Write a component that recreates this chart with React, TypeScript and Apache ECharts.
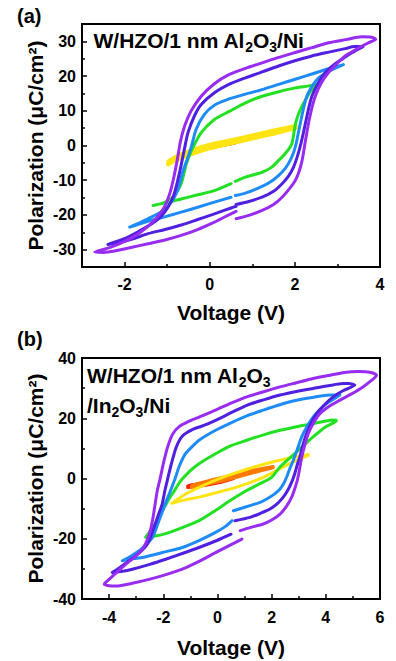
import React, { useEffect, useRef } from 'react';
import * as echarts from 'echarts';

const FONT = "'Liberation Sans', Arial, Helvetica, sans-serif";

// ---------- Panel (a): W/HZO/1 nm Al2O3/Ni ----------
const aXTicks = [-2, 0, 2, 4];
const aYTicks = [-30, -20, -10, 0, 10, 20, 30];

const aPurple = [
  [0.62, -21.1], [0.9, -20.2], [1.23, -18.7], [1.5, -17.0], [1.7, -14.9], [1.87, -12.5], [2.01, -10.1], [2.1, -7.5],
  [2.17, -4.3], [2.23, 0], [2.3, 5], [2.38, 9.8], [2.48, 14.2], [2.62, 18], [2.79, 21], [3.0, 23.7], [3.18, 25.8],
  [3.4, 27.4], [3.57, 28.6], [3.75, 29.7], [3.9, 30.6], [3.8, 31.2], [3.57, 31.3], [3.2, 30.5], [2.79, 29.6],
  [2.4, 28.2], [2.01, 26.8], [1.6, 25.3], [1.23, 23.8], [0.85, 22.3], [0.45, 20.4], [0.11, 17.8], [-0.2, 14.2],
  [-0.44, 9.9], [-0.59, 5.6], [-0.69, 1.0], [-0.76, -4.0], [-0.84, -9.0], [-0.93, -13.5], [-1.06, -17.6],
  [-1.25, -20.9], [-1.45, -23.3], [-1.7, -25.6], [-2.0, -27.6], [-2.35, -29.4], [-2.7, -30.7], [-2.5, -30.8],
  [-2.23, -30.4], [-1.85, -29.4], [-1.45, -28.3], [-1.05, -27.2], [-0.67, -25.9], [-0.3, -24.3], [0.11, -22.1],
  [0.35, -20.6], [0.62, -19.0],
];
const aIndigo = [
  [0.62, -17.0], [0.9, -16.2], [1.23, -14.9], [1.5, -13.2], [1.7, -11.0], [1.85, -8.8], [1.97, -6.2], [2.05, -3.5],
  [2.11, -1.0], [2.17, 2.0], [2.25, 6.5], [2.32, 10.5], [2.4, 14.2], [2.55, 18], [2.71, 21], [2.9, 23.1], [3.1, 24.8],
  [3.35, 26.8], [3.6, 28.5], [3.4, 28.5], [3.18, 27.9], [2.8, 26.9], [2.4, 25.8], [2.0, 24.4], [1.62, 22.9],
  [1.23, 21.2], [0.84, 19.5], [0.45, 17.6], [0.11, 15.2], [-0.2, 11.8], [-0.36, 8.5], [-0.51, 3.7], [-0.59, -0.7],
  [-0.66, -5.0], [-0.75, -10.0], [-0.85, -14.5], [-0.98, -17.8], [-1.15, -20.5], [-1.37, -22.6], [-1.65, -24.6],
  [-1.92, -26.4], [-2.15, -27.5], [-2.39, -28.5], [-2.1, -27.9], [-1.8, -26.9], [-1.45, -25.4], [-1.05, -24.2],
  [-0.67, -22.9], [-0.3, -21.4], [0.11, -19.7], [0.5, -18.0], [0.62, -17.5],
];
const aBlue = [
  [0.6, -14.4], [0.84, -13.7], [1.23, -11.8], [1.45, -10.3], [1.62, -8.6], [1.78, -6.5], [1.89, -4.3], [1.97, -2.0],
  [2.03, 0.5], [2.08, 3.5], [2.13, 6.5], [2.2, 10.5], [2.28, 14.2], [2.4, 17.0], [2.56, 19.5], [2.8, 21.4],
  [3.14, 23.3], [2.79, 22.1], [2.4, 20.6], [2.01, 19.1], [1.62, 17.6], [1.23, 16.1], [0.84, 14.8], [0.47, 13.5],
  [0.11, 11.6], [-0.13, 8.9], [-0.32, 4.6], [-0.44, -0.7], [-0.53, -4.0], [-0.63, -7.5], [-0.75, -12.8],
  [-0.9, -16.3], [-1.1, -18.8], [-1.45, -21.1], [-1.88, -23.5], [-1.53, -22.1], [-1.1, -20.7], [-0.67, -19.2],
  [-0.28, -17.8], [0.11, -16.3], [0.5, -14.9],
];
const aGreen = [
  [0.6, -10.3], [0.84, -9.1], [1.23, -7.7], [1.45, -6.3], [1.62, -4.3], [1.76, -2.5], [1.86, -1.0], [1.93, 0.5],
  [1.97, 3.0], [2.02, 6.5], [2.1, 9.5], [2.21, 12.3], [2.4, 16.1], [2.56, 17.6], [2.3, 17.1], [2.01, 16.6],
  [1.62, 15.5], [1.23, 14.2], [0.84, 12.3], [0.47, 9.9], [0.11, 7.5], [-0.2, 3.7], [-0.4, -0.7], [-0.48, -3.0],
  [-0.55, -5.3], [-0.67, -11.0], [-0.8, -13.8], [-0.91, -15.4], [-1.1, -16.6], [-1.33, -17.3], [-1.0, -16.4],
  [-0.67, -15.4], [-0.28, -14.2], [0.11, -13.0], [0.5, -11.0],
];
const aYellow = [
  [2.02, 5.6], [1.5, 4.3], [1.0, 2.9], [0.5, 1.5], [0.0, 0.2], [-0.5, -1.7], [-0.8, -3.3], [-0.98, -4.8],
  [-0.98, -5.5], [-0.8, -4.3], [-0.5, -2.8], [0.0, -0.8], [0.5, 0.6], [1.0, 2.0], [1.5, 3.4], [2.02, 5.0],
];
const aRed = [
  [0.6, 1.2], [0.0, -0.3], [-0.5, -2.3], [-0.75, -3.7], [-0.75, -4.0], [-0.5, -2.9], [0.0, -0.9], [0.6, 0.6],
];

// ---------- Panel (b): W/HZO/1 nm Al2O3/In2O3/Ni ----------
const bXTicks = [-4, -2, 0, 2, 4, 6];
const bYTicks = [-40, -20, 0, 20, 40];

const bPurple = [
  [0.84, -17.3], [1.2, -16.3], [1.69, -15.1], [2.0, -13.8], [2.31, -11.8], [2.55, -9.2], [2.74, -6.2], [2.85, -3.5],
  [2.95, -0.5], [3.03, 3.0], [3.11, 7.1], [3.22, 11.0], [3.35, 14.9], [3.55, 18.5], [3.78, 21.5], [4.1, 23.8],
  [4.52, 26.0], [4.95, 28.1], [5.37, 30.4], [5.65, 32.3], [5.87, 34.3], [5.62, 35.3], [5.2, 35.5], [4.76, 35.3],
  [4.15, 34.3], [3.53, 33.2], [2.92, 31.8], [2.31, 30.4], [1.7, 28.8], [1.08, 27.1], [0.5, 25.0], [-0.07, 22.7],
  [-0.68, 20.4], [-1.0, 19.2], [-1.4, 17.3], [-1.65, 14.8], [-1.82, 11.0], [-1.97, 6.0], [-2.12, -0.2], [-2.22, -4.0],
  [-2.3, -8.5], [-2.38, -13.0], [-2.48, -17.3], [-2.6, -20.5], [-2.77, -23.5], [-3.05, -26.0], [-3.39, -28.5],
  [-3.7, -31.0], [-4.0, -33.5], [-4.18, -35.1], [-4.0, -35.6], [-3.75, -35.7], [-3.1, -34.7], [-2.53, -33.5],
  [-1.9, -31.9], [-1.3, -30.1], [-0.7, -27.6], [-0.07, -24.6], [0.54, -21.8], [0.9, -20.1],
];
const bIndigo = [
  [0.65, -14.0], [1.2, -12.9], [1.6, -11.5], [1.94, -10.1], [2.2, -8.4], [2.43, -6.2], [2.6, -3.8], [2.74, -1.2],
  [2.85, 1.5], [2.96, 5.0], [3.04, 7.1], [3.15, 11.0], [3.29, 14.9], [3.45, 18.3], [3.66, 21.5], [3.95, 24.5],
  [4.27, 27.1], [4.65, 29.2], [5.07, 31.0], [4.85, 31.5], [4.64, 31.5], [4.1, 30.8], [3.53, 29.9], [2.92, 28.9],
  [2.31, 27.7], [1.7, 26.1], [1.08, 24.3], [0.54, 22.0], [-0.07, 19.3], [-0.5, 17.6], [-0.93, 16.2], [-1.3, 14.0],
  [-1.52, 10.4], [-1.7, 4.9], [-1.84, -0.2], [-1.94, -4.0], [-2.04, -8.5], [-2.18, -12.0], [-2.34, -16.2],
  [-2.59, -21.8], [-2.9, -24.8], [-3.26, -27.3], [-3.6, -29.5], [-3.88, -31.2], [-3.5, -30.8], [-3.14, -30.1],
  [-2.5, -28.5], [-1.91, -26.8], [-1.3, -24.9], [-0.68, -22.9], [0.0, -20.5], [0.5, -18.5],
];
const bBlue = [
  [0.59, -10.7], [1.2, -9.0], [1.55, -8.0], [1.82, -6.8], [2.1, -5.2], [2.31, -3.5], [2.45, -1.6], [2.55, 0.4],
  [2.68, 3.5], [2.8, 6.0], [2.9, 8.5], [3.0, 11.0], [3.11, 13.8], [3.3, 17.2], [3.53, 20.4], [3.78, 22.9],
  [4.03, 24.9], [4.3, 26.4], [4.52, 27.7], [4.15, 27.7], [3.5, 26.9], [2.92, 26.0], [2.3, 24.5], [1.69, 22.7],
  [1.08, 20.8], [0.5, 18.5], [-0.07, 16.0], [-0.68, 12.7], [-1.0, 10.0], [-1.2, 8.0], [-1.42, 3.8], [-1.57, -0.2],
  [-1.73, -4.0], [-1.91, -8.0], [-2.16, -14.0], [-2.4, -19.6], [-2.65, -22.0], [-2.89, -24.0], [-3.2, -25.8],
  [-3.51, -27.3], [-3.1, -26.6], [-2.77, -26.2], [-2.0, -24.5], [-1.3, -22.9], [-0.68, -20.6], [-0.07, -17.9],
  [0.3, -15.9], [0.54, -14.0],
];
const bGreen = [
  [-2.65, -19.5], [-2.3, -19.1], [-1.91, -18.3], [-1.3, -16.3], [-0.68, -14.0], [-0.1, -10.8], [0.47, -7.3],
  [1.08, -4.0], [1.55, -1.8], [2.0, 0.4], [2.31, 3.8], [2.92, 8.8], [3.53, 13.8], [4.0, 17.2], [4.39, 19.2],
  [4.3, 19.4], [3.9, 18.9], [3.53, 18.2], [2.92, 17.2], [2.31, 16.0], [1.7, 14.5], [1.08, 12.7], [0.5, 10.9],
  [-0.07, 8.2], [-0.68, 4.9], [-1.0, 2.6], [-1.3, -0.2], [-1.45, -2.0], [-1.62, -4.5], [-1.79, -6.8],
  [-2.16, -12.9], [-2.4, -16.5], [-2.65, -19.5],
];
const bYellow = [
  [3.35, 8.0], [2.67, 6.8], [1.81, 5.0], [1.2, 3.4], [0.59, 1.6], [0.0, -0.3], [-0.64, -2.8], [-1.2, -5.3],
  [-1.68, -8.2], [-1.2, -7.1], [-0.64, -6.1], [0.0, -4.6], [0.59, -3.2], [1.2, -1.4], [1.81, 0.9], [2.3, 3.2],
  [2.8, 5.5], [3.35, 7.7],
];
const bOrange = [
  [2.05, 3.9], [1.5, 3.0], [1.0, 2.1], [0.5, 1.0], [0.0, -0.1], [-0.5, -1.2], [-0.95, -2.4], [-0.95, -2.8],
  [-0.5, -2.0], [0.0, -1.1], [0.5, 0.0], [1.0, 1.2], [1.5, 2.4], [2.05, 3.6],
];
const bRed = [
  [0.6, 0.9], [0.2, -0.2], [-0.3, -1.1], [-0.8, -1.9], [-1.1, -2.5], [-1.1, -3.0], [-0.6, -2.5], [0.0, -1.5],
  [0.6, 0.0],
];

const COLORS = {
  red: '#FF1E00',
  orange: '#FF7A00',
  yellow: '#FFE414',
  green: '#22E022',
  blue: '#1E8CF8',
  indigo: '#5020E0',
  purple: '#982CF0',
};

function loop(data: number[][], color: string, idx: number, width = 3) {
  return {
    type: 'line',
    xAxisIndex: idx,
    yAxisIndex: idx,
    data,
    symbol: 'none',
    showSymbol: false,
    smooth: 0.25,
    silent: true,
    lineStyle: { color, width, cap: 'round', join: 'round' },
  };
}

function xAxis(idx: number, min: number, max: number, split: number, ticks: number[], margin: number) {
  return {
    gridIndex: idx,
    type: 'value',
    min,
    max,
    splitNumber: split,
    axisLine: { show: true, onZero: false, lineStyle: { color: '#000', width: 2 } },
    axisTick: { show: true, inside: true, length: 5, lineStyle: { color: '#000', width: 1.5 } },
    minorTick: { show: true, splitNumber: 2, length: 3, lineStyle: { color: '#000', width: 1.5 } },
    splitLine: { show: false },
    axisLabel: {
      margin,
      color: '#000',
      fontSize: 16,
      fontWeight: 'bold',
      fontFamily: FONT,
      formatter: (v: number) => (ticks.includes(v) ? String(v) : ''),
    },
  };
}

function yAxis(idx: number, min: number, max: number, split: number, ticks: number[]) {
  return {
    gridIndex: idx,
    type: 'value',
    min,
    max,
    splitNumber: split,
    axisLine: { show: true, onZero: false, lineStyle: { color: '#000', width: 2 } },
    axisTick: { show: true, inside: true, length: 5, lineStyle: { color: '#000', width: 1.5 } },
    minorTick: { show: true, splitNumber: 2, length: 3, lineStyle: { color: '#000', width: 1.5 } },
    splitLine: { show: false },
    axisLabel: {
      margin: 6,
      color: '#000',
      fontSize: 16,
      fontWeight: 'bold',
      fontFamily: FONT,
      formatter: (v: number) => (ticks.includes(v) ? String(v) : ''),
    },
  };
}

const richStyles = {
  n: { fontSize: 21, fontWeight: 'bold', fontFamily: FONT, lineHeight: 24, verticalAlign: 'top', color: '#000' },
  s: { fontSize: 14, fontWeight: 'bold', fontFamily: FONT, lineHeight: 14, verticalAlign: 'bottom', color: '#000' },
};

function txt(text: string, x: number, y: number, size: number, align = 'center', rotation = 0) {
  return {
    type: 'text',
    x,
    y,
    rotation,
    silent: true,
    style: {
      text,
      fill: '#000',
      fontSize: size,
      fontWeight: 'bold',
      fontFamily: FONT,
      textAlign: align,
      textVerticalAlign: 'middle',
      align,
      verticalAlign: 'middle',
    },
  };
}

function richTxt(text: string, x: number, y: number) {
  return {
    type: 'text',
    x,
    y,
    silent: true,
    style: {
      text,
      rich: richStyles,
      fill: '#000',
      fontSize: 21,
      fontWeight: 'bold',
      fontFamily: FONT,
      textAlign: 'left',
      textVerticalAlign: 'top',
      align: 'left',
      verticalAlign: 'top',
    },
  };
}

export default function App() {
  const ref = useRef<HTMLDivElement>(null);
  useEffect(() => {
    if (!ref.current) return;
    const chart = echarts.init(ref.current, null, { renderer: 'svg' });
    chart.setOption({
      animation: false,
      backgroundColor: '#fff',
      grid: [
        { left: 82, top: 24, width: 298, height: 243, show: true, borderColor: '#000', borderWidth: 2 },
        { left: 82, top: 358, width: 298, height: 241, show: true, borderColor: '#000', borderWidth: 2 },
      ],
      xAxis: [xAxis(0, -3, 4, 4, aXTicks, 9), xAxis(1, -5, 6, 5, bXTicks, 10)],
      yAxis: [yAxis(0, -35, 35, 7, aYTicks), yAxis(1, -40, 40, 4, bYTicks)],
      series: [
        loop(aRed, COLORS.red, 0, 2),
        loop(aYellow, COLORS.yellow, 0, 4),
        loop(aGreen, COLORS.green, 0),
        loop(aBlue, COLORS.blue, 0),
        loop(aIndigo, COLORS.indigo, 0),
        loop(aPurple, COLORS.purple, 0),
        loop(bRed, COLORS.red, 1),
        loop(bOrange, COLORS.orange, 1, 3.5),
        loop(bYellow, COLORS.yellow, 1),
        loop(bGreen, COLORS.green, 1),
        loop(bBlue, COLORS.blue, 1),
        loop(bIndigo, COLORS.indigo, 1),
        loop(bPurple, COLORS.purple, 1),
      ],
      graphic: [
        txt('(a)', 17, 16, 20, 'left'),
        txt('(b)', 17, 339, 20, 'left'),
        txt('Polarization (μC/cm²)', 35, 145.5, 21, 'center', Math.PI / 2),
        txt('Polarization (μC/cm²)', 35, 478.5, 21, 'center', Math.PI / 2),
        txt('Voltage (V)', 231, 312, 21),
        txt('Voltage (V)', 231, 647.5, 21),
        richTxt('{n|W/HZO/1 nm Al}{s|2}{n|O}{s|3}{n|/Ni}', 93.5, 29.5),
        richTxt('{n|W/HZO/1 nm Al}{s|2}{n|O}{s|3}', 87, 365.3),
        richTxt('{n|/In}{s|2}{n|O}{s|3}{n|/Ni}', 87, 395.2),
      ],
    });
    return () => chart.dispose();
  }, []);
  return (
    <div
      ref={ref}
      style={{ position: 'fixed', left: 0, top: 0, width: 396, height: 661, background: '#fff' }}
    />
  );
}
